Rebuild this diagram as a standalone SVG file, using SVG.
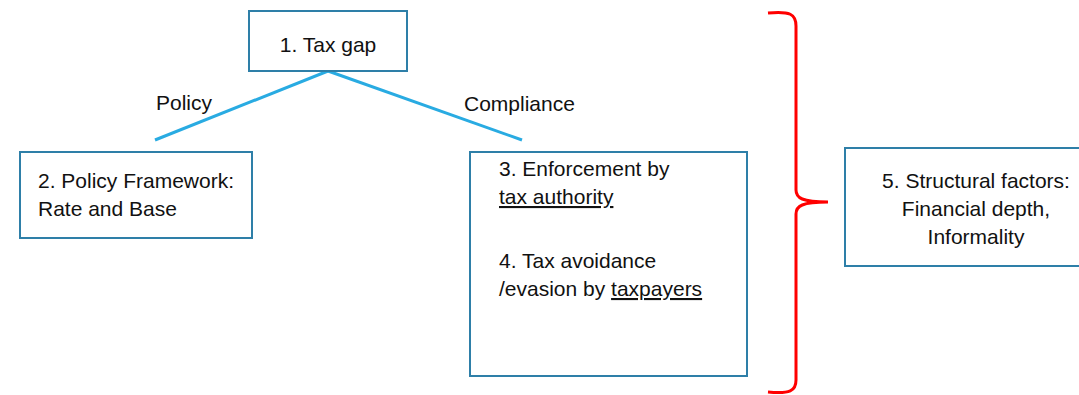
<svg xmlns="http://www.w3.org/2000/svg" width="1079" height="395" viewBox="0 0 1079 395">
<style>
.box{fill:#fff;stroke:#2E7FA8;stroke-width:2}
.t{font-family:"Liberation Sans",Arial,sans-serif;font-size:21px;fill:#111}
.conn{stroke:#29ABE2;stroke-width:3;fill:none}
.brace{stroke:#FF0000;stroke-width:3;fill:none}
</style>
<rect width="1079" height="395" fill="#fff"/>
<g id="connectors">
<line class="conn" x1="328" y1="71" x2="155" y2="140"/>
<line class="conn" x1="328" y1="71" x2="522" y2="140"/>
<text class="t" x="156" y="110">Policy</text>
<text class="t" x="464" y="111">Compliance</text>
</g>
<g id="node1">
<rect class="box" x="249" y="11" width="158" height="60"/>
<text class="t" x="328" y="52" text-anchor="middle">1. Tax gap</text>
</g>
<g id="node2">
<rect class="box" x="20" y="152" width="232" height="86"/>
<text class="t" x="38" y="188">2. Policy Framework:</text>
<text class="t" x="38" y="216">Rate and Base</text>
</g>
<g id="node3">
<rect class="box" x="470" y="152" width="277" height="224"/>
<text class="t" x="499" y="176">3. Enforcement by</text>
<text class="t" x="499" y="204" text-decoration="underline">tax authority</text>
<text class="t" x="499" y="268">4. Tax avoidance</text>
<text class="t" x="499" y="296">/evasion by <tspan text-decoration="underline">taxpayers</tspan></text>
</g>
<g id="brace">
<path class="brace" d="M768,13 C790,11 796,14 796,26 L796,190 C796,198 802,202 828,202 C802,202 796,206 796,214 L796,380 C796,391 790,394 768,392"/>
</g>
<g id="node5">
<rect class="box" x="845" y="148" width="250" height="118"/>
<text class="t" x="976" y="188" text-anchor="middle">5. Structural factors:</text>
<text class="t" x="976" y="216" text-anchor="middle">Financial depth,</text>
<text class="t" x="976" y="244" text-anchor="middle">Informality</text>
</g>
</svg>
